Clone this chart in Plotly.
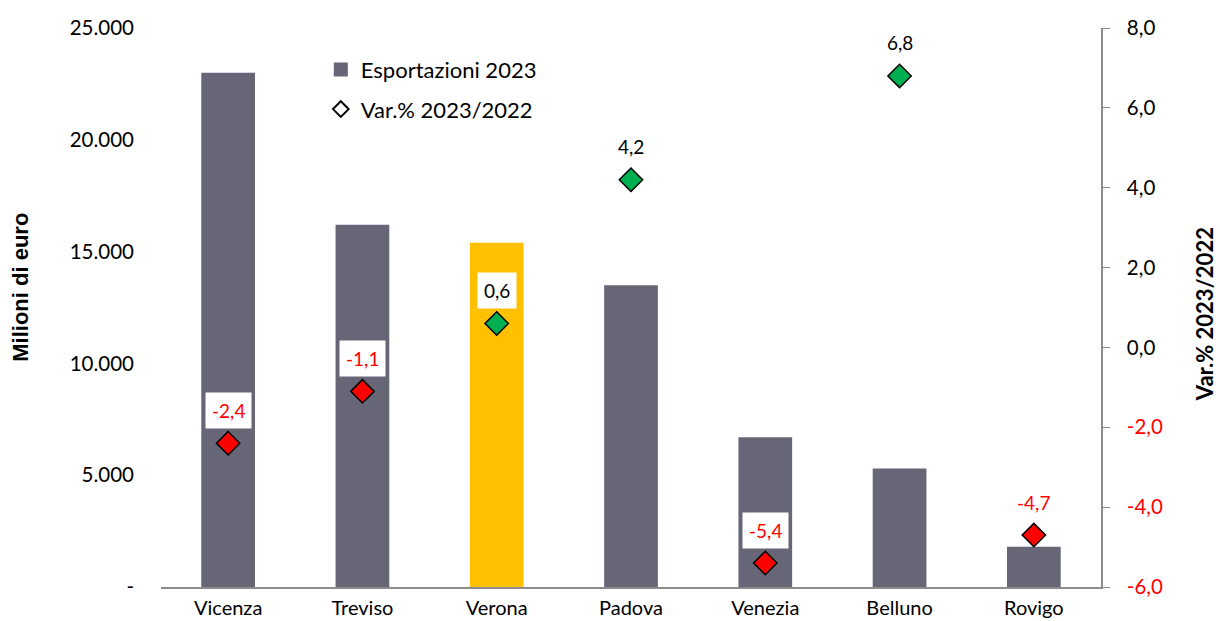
import plotly.graph_objects as go

provinces = ["Vicenza", "Treviso", "Verona", "Padova", "Venezia", "Belluno", "Rovigo"]
export_2023 = [23000, 16200, 15400, 13500, 6700, 5300, 1800]
var_pct = [-2.4, -1.1, 0.6, 4.2, -5.4, 6.8, -4.7]
highlight = "Verona"

left_ticks = [0, 5000, 10000, 15000, 20000, 25000]
left_ticktext = ["-", "5.000", "10.000", "15.000", "20.000", "25.000"]
right_ticks = [-6, -4, -2, 0, 2, 4, 6, 8]

BAR = "#666677"
HL = "#FFC000"
GREEN = "#00B050"
RED = "#FF0000"
FONT = "Lato, Open Sans, sans-serif"

def fmt(v):
    return f"{v:.1f}".replace(".", ",")

fig = go.Figure()
fig.add_trace(go.Bar(
    x=provinces, y=export_2023,
    marker=dict(color=[HL if p == highlight else BAR for p in provinces], line=dict(width=0)),
    width=0.4, showlegend=False, yaxis="y", hoverinfo="skip"))
fig.add_trace(go.Scatter(
    x=provinces, y=var_pct, mode="markers", yaxis="y2", showlegend=False,
    marker=dict(symbol="diamond", size=18,
                color=[GREEN if v >= 0 else RED for v in var_pct],
                line=dict(color="black", width=1.5))))

# legend entries
fig.add_trace(go.Scatter(x=[None], y=[None], mode="markers", name="Esportazioni 2023",
                         marker=dict(symbol="square", size=14, color=BAR), legendgroup="a"))
fig.add_trace(go.Scatter(x=[None], y=[None], mode="markers", name="Var.% 2023/2022", yaxis="y2",
                         marker=dict(symbol="diamond-open", size=12, color="black", line=dict(width=2)),
                         legendgroup="b"))

for p, v in zip(provinces, var_pct):
    fig.add_annotation(x=p, y=v, xref="x", yref="y2", text=fmt(v), showarrow=False,
                       yshift=33, bgcolor="white", borderpad=6,
                       font=dict(family=FONT, size=19, color=RED if v < 0 else "black"))

# axis titles
fig.add_annotation(text="<b>Milioni di euro</b>", xref="paper", yref="paper", x=-0.149, y=0.537,
                   textangle=-90, showarrow=False, xanchor="center", yanchor="middle",
                   font=dict(family="Liberation Sans, Arial", size=22, color="black"))
fig.add_annotation(text="<b>Var.% 2023/2022</b>", xref="paper", yref="paper", x=1.1095, y=0.488,
                   textangle=-90, showarrow=False, xanchor="center", yanchor="middle",
                   font=dict(family=FONT, size=22, color="black"))

right_ticktext = [f'<span style="color:{RED}">{fmt(t)}</span>' if t < 0 else fmt(t) for t in right_ticks]

fig.update_layout(
    width=1220, height=621,
    margin=dict(l=161, r=119, t=28, b=34),
    plot_bgcolor="white", paper_bgcolor="white",
    font=dict(family=FONT, size=20, color="black"),
    xaxis=dict(showline=True, linecolor="#8c8c8c", linewidth=1.5, ticks="", showgrid=False,
               tickfont=dict(size=20), ticklabelstandoff=2, automargin=False),
    yaxis=dict(range=[0, 25000], tickvals=left_ticks, ticktext=left_ticktext, showgrid=False,
               showline=False, zeroline=False, ticks="", ticklabelstandoff=26, automargin=False,
               tickfont=dict(size=20.5)),
    yaxis2=dict(range=[-6, 8], overlaying="y", side="right", tickvals=right_ticks,
                ticktext=right_ticktext, showgrid=False, zeroline=False, showline=True,
                linecolor="#8c8c8c", linewidth=1.5, ticks="outside", ticklen=7, tickcolor="#8c8c8c",
                ticklabelstandoff=13, automargin=False, tickfont=dict(size=20.5)),
    legend=dict(x=0.17, y=0.963, xanchor="left", yanchor="top", font=dict(size=22),
                bgcolor="rgba(0,0,0,0)", tracegroupgap=8, itemwidth=30),
)

fig.write_html("out.html", config={"displayModeBar": False},
               post_script="document.body.style.margin='0';document.body.style.overflow='hidden';")
